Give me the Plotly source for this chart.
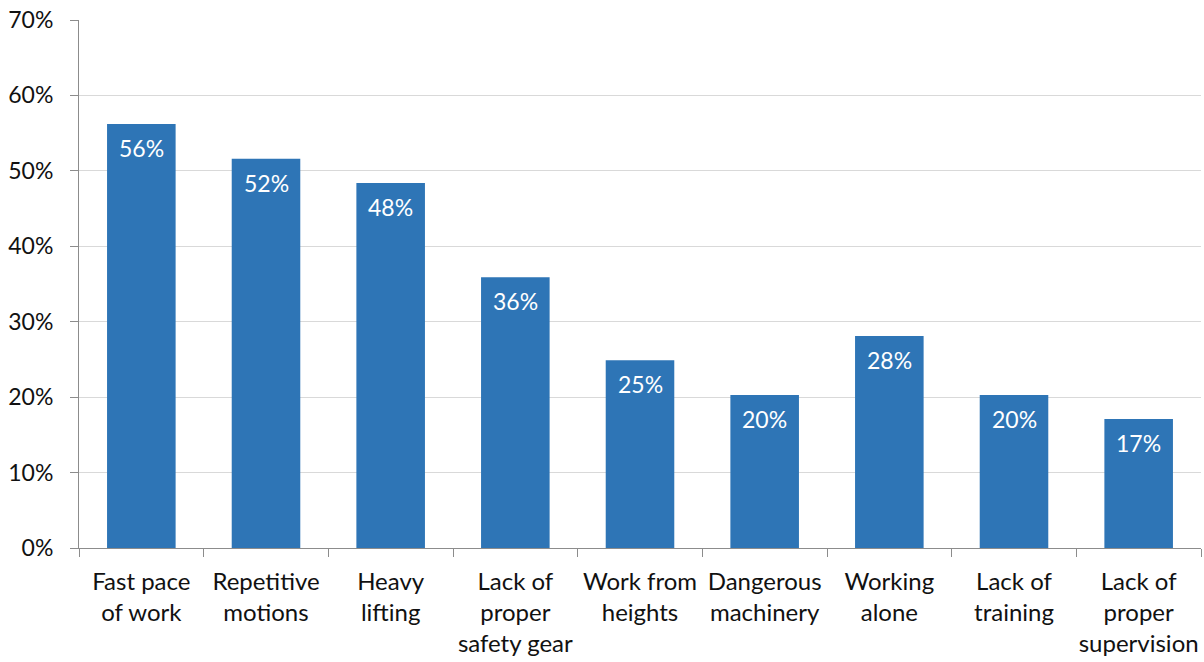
import plotly.graph_objects as go

categories = [
    "Fast pace<br>of work",
    "Repetitive<br>motions",
    "Heavy<br>lifting",
    "Lack of<br>proper<br>safety gear",
    "Work from<br>heights",
    "Dangerous<br>machinery",
    "Working<br>alone",
    "Lack of<br>training",
    "Lack of<br>proper<br>supervision",
]
shares = [56.2, 51.6, 48.4, 35.9, 24.9, 20.3, 28.1, 20.3, 17.1]
y_ticks = [0, 10, 20, 30, 40, 50, 60, 70]
y_tick_text = [f"{v}%" for v in y_ticks]

FONT = "Lato, 'Open Sans', sans-serif"
BAR = "#2E75B6"
AXIS = "#8C8C8C"
TEXT = "#111111"

fig = go.Figure(
    go.Bar(
        x=categories,
        y=shares,
        marker=dict(color=BAR, line=dict(width=0)),
        hoverinfo="skip",
    )
)

# value labels just below each bar top
for cat, val in zip(categories, shares):
    fig.add_annotation(
        x=cat, y=val, text=f"{val:.0f}%",
        showarrow=False, yanchor="top", yshift=-8,
        font=dict(family=FONT, size=23, color="white"),
    )

fig.update_layout(
    width=1204, height=662,
    margin=dict(l=79, r=3, t=20, b=114, autoexpand=False),
    paper_bgcolor="white", plot_bgcolor="white",
    bargap=0.45,
    showlegend=False,
    font=dict(family=FONT, size=23, color=TEXT),
)
fig.update_xaxes(
    showline=True, linecolor=AXIS, linewidth=1,
    ticks="outside", tickson="boundaries", ticklen=8, tickcolor=AXIS,
    ticklabelstandoff=12, tickangle=0, automargin=False,
    showgrid=False, tickfont=dict(family=FONT, size=24, color=TEXT),
)
fig.update_yaxes(
    range=[0, 70], tickvals=y_ticks, ticktext=y_tick_text,
    showline=True, linecolor=AXIS, linewidth=1,
    ticks="outside", ticklen=8, tickcolor=AXIS,
    ticklabelstandoff=12, automargin=False,
    showgrid=True, gridcolor="#D9D9D9", gridwidth=1,
    zeroline=False,
    tickfont=dict(family=FONT, size=23, color=TEXT),
)

fig.write_html("out.html")
